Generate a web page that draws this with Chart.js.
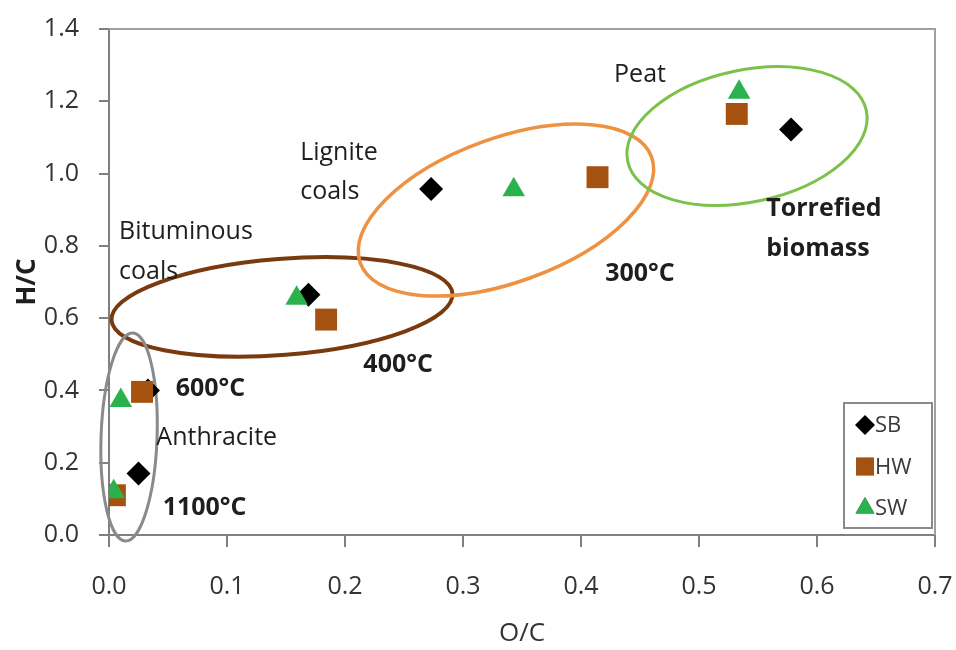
<!DOCTYPE html>
<html><head><meta charset="utf-8">
<script src="https://cdn.jsdelivr.net/npm/chart.js@4/dist/chart.umd.min.js"></script>
<style>html,body{margin:0;padding:0;background:#fff}#wrap{width:956px;height:650px;position:relative}</style>
</head><body><div id="wrap"><canvas id="c" width="956" height="650"></canvas></div>
<script>
// ---- data ----
const seriesNames = ['SB', 'HW', 'SW'];
const sbOC = [0.025, 0.033, 0.169, 0.273, 0.578];
const sbHC = [0.170, 0.400, 0.665, 0.957, 1.122];
const hwOC = [0.005, 0.028, 0.184, 0.414, 0.532];
const hwHC = [0.110, 0.396, 0.596, 0.990, 1.165];
const swOC = [0.004, 0.010, 0.159, 0.343, 0.534];
const swHC = [0.120, 0.372, 0.655, 0.955, 1.225];
const xTickValues = [0.0, 0.1, 0.2, 0.3, 0.4, 0.5, 0.6, 0.7];
const yTickValues = [0.0, 0.2, 0.4, 0.6, 0.8, 1.0, 1.2, 1.4];
const xTitle = 'O/C';
const yTitle = 'H/C';

// region labels (text, O/C, H/C)
const labelTexts = ['Peat', 'Lignite', 'coals', 'Bituminous', 'coals', 'Torrefied', 'biomass', '300°C', '400°C', '600°C', 'Anthracite', '1100°C'];
const labelOC    = [0.450, 0.162, 0.162, 0.0085, 0.0085, 0.557, 0.557, 0.450, 0.245, 0.086, 0.0913, 0.081];
const labelHC    = [1.274, 1.058, 0.950, 0.838, 0.727, 0.903, 0.791, 0.722, 0.470, 0.404, 0.269, 0.075];

// region ellipse centres (O/C, H/C)
const ellipseOC = [0.1466, 0.3364, 0.5407, 0.017];
const ellipseHC = [0.631, 0.899, 1.104, 0.271];

// ---- styling ----
const FONT = "'Open Sans', 'Liberation Sans', sans-serif";
const labelStyle = [
  {bold:false, align:'center'}, {bold:false, align:'left'}, {bold:false, align:'left'},
  {bold:false, align:'left'}, {bold:false, align:'left'}, {bold:true, align:'left'},
  {bold:true, align:'left'}, {bold:true, align:'center'}, {bold:true, align:'center'},
  {bold:true, align:'center'}, {bold:false, align:'center'}, {bold:true, align:'center'}
];
const ellipseStyle = [
  {rx:171, ry:48, rot:-4.5, color:'#7a3a10', width:4},
  {rx:155, ry:72, rot:-20, color:'#ee9140', width:3.5},
  {rx:122, ry:66, rot:-12, color:'#7cc24a', width:3},
  {rx:28, ry:104, rot:2, color:'#8a8a8a', width:3}
];
const colors = {SB:'#000000', HW:'#a5510f', SW:'#2bb24c'};
const shapes = {SB:'rectRot', HW:'rect', SW:'triangle'};
const radii = {SB:12, HW:15.5, SW:13};

function pts(xs, ys){ return xs.map((x,i)=>({x:x, y:ys[i]})); }

const decor = {
  id: 'decor',
  beforeDatasetsDraw(chart){
    const ctx = chart.ctx, xs = chart.scales.x, ys = chart.scales.y;
    ctx.save();
    ellipseOC.forEach((cx,i)=>{
      const st = ellipseStyle[i];
      ctx.beginPath();
      ctx.ellipse(xs.getPixelForValue(cx), ys.getPixelForValue(ellipseHC[i]), st.rx, st.ry, st.rot*Math.PI/180, 0, Math.PI*2);
      ctx.strokeStyle = st.color; ctx.lineWidth = st.width; ctx.stroke();
    });
    // plot frame top & right
    const a = chart.chartArea;
    ctx.beginPath();
    ctx.moveTo(a.left, a.top); ctx.lineTo(a.right, a.top); ctx.lineTo(a.right, a.bottom);
    ctx.strokeStyle = '#a0a0a0'; ctx.lineWidth = 2; ctx.stroke();
    ctx.restore();
  },
  afterDatasetsDraw(chart){
    const ctx = chart.ctx, xs = chart.scales.x, ys = chart.scales.y;
    ctx.save();
    ctx.textBaseline = 'middle';
    ctx.fillStyle = '#1e1e1e';
    labelTexts.forEach((t,i)=>{
      const st = labelStyle[i];
      ctx.font = (st.bold ? 'bold ' : '') + '25px ' + FONT;
      ctx.textAlign = st.align;
      ctx.fillText(t, xs.getPixelForValue(labelOC[i]), ys.getPixelForValue(labelHC[i]));
    });
    // legend box
    const a = chart.chartArea;
    const bw = 88, bh = 125;
    const bx = a.right - 3 - bw, by = a.bottom - 7 - bh;
    ctx.fillStyle = '#ffffff';
    ctx.fillRect(bx, by, bw, bh);
    ctx.strokeStyle = '#8a8a8a'; ctx.lineWidth = 2;
    ctx.strokeRect(bx, by, bw, bh);
    ctx.font = '22px ' + FONT;
    ctx.textAlign = 'left';
    const lr = {SB:10, HW:12.5, SW:11};
    seriesNames.forEach((n,i)=>{
      const cy = by + 22 + i*41.5;
      const mx = bx + 21;
      Chart.helpers.drawPoint(ctx, {pointStyle: shapes[n], radius: lr[n], rotation:0, borderWidth:0}, mx, cy);
      ctx.fillStyle = colors[n];
      ctx.fill();
      ctx.fillStyle = '#3a3a3a';
      ctx.fillText(n, mx + 10, cy + 1);
    });
    ctx.restore();
  }
};

function ds(name, xs, ys, order){
  return {
    label: name, data: pts(xs, ys), order: order,
    pointStyle: shapes[name], pointRadius: radii[name], pointHoverRadius: radii[name],
    backgroundColor: colors[name], borderColor: colors[name], borderWidth: 0, showLine: false
  };
}

new Chart(document.getElementById('c'), {
  type: 'scatter',
  data: { datasets: [ ds('SB', sbOC, sbHC, 3), ds('HW', hwOC, hwHC, 2), ds('SW', swOC, swHC, 1) ] },
  options: {
    responsive: false, animation: false, devicePixelRatio: 1,
    layout: { padding: { top: 29, right: 21, left: 0, bottom: 0 } },
    plugins: { legend: { display: false }, tooltip: { enabled: false } },
    scales: {
      x: {
        type: 'linear', min: 0, max: 0.7,
        afterBuildTicks: s => { s.ticks = xTickValues.map(v=>({value:v})); },
        afterFit: s => { s.height = 115; s.paddingLeft = 0; s.paddingRight = 0; },
        grid: { drawOnChartArea: false, drawTicks: true, tickLength: 12, color: '#808080', lineWidth: 2 },
        border: { display: true, color: '#808080', width: 2 },
        ticks: { padding: 25, color: '#333333', font: { family: FONT, size: 25 }, callback: v => Number(v).toFixed(1), maxRotation: 0 },
        title: { display: true, text: xTitle, color: '#333333', font: { family: FONT, size: 26 }, padding: { top: 0, bottom: 1 } }
      },
      y: {
        type: 'linear', min: 0, max: 1.4,
        afterBuildTicks: s => { s.ticks = yTickValues.map(v=>({value:v})); },
        afterFit: s => { s.width = 109; s.paddingTop = 0; s.paddingBottom = 0; },
        grid: { drawOnChartArea: false, drawTicks: true, tickLength: 10, color: '#808080', lineWidth: 2 },
        border: { display: true, color: '#808080', width: 2 },
        ticks: { padding: 20, color: '#333333', font: { family: FONT, size: 25 }, callback: v => Number(v).toFixed(1) },
        title: { display: true, text: yTitle, color: '#1e1e1e', font: { family: FONT, size: 26, weight: 'bold' }, padding: { top: 12, bottom: 0 } }
      }
    }
  },
  plugins: [decor]
});
</script>
</body></html>
